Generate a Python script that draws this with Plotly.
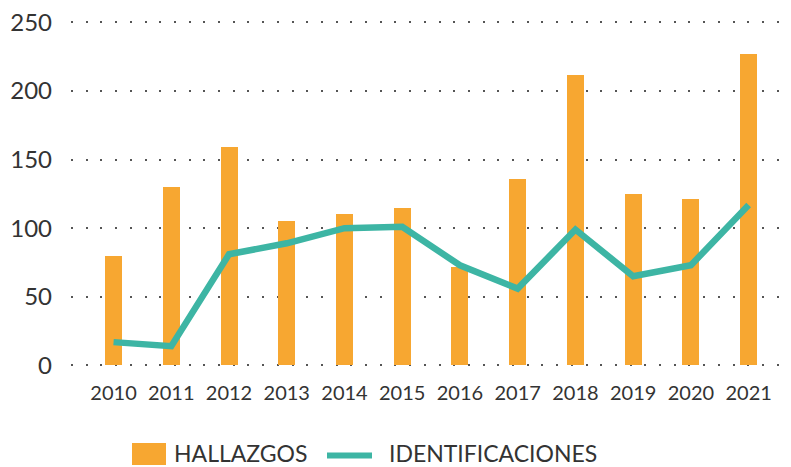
import plotly.graph_objects as go

years = ["2010", "2011", "2012", "2013", "2014", "2015",
         "2016", "2017", "2018", "2019", "2020", "2021"]
hallazgos = [80, 130, 159, 105, 110, 115, 72, 136, 212, 125, 121, 227]
identificaciones = [17, 14, 81, 89, 100, 101, 73, 56, 99, 65, 73, 117]

ORANGE = "#F7A731"
TEAL = "#3DB5A4"
TEXT = "#333333"
FONT = "Lato"

# plot area geometry (pixels) used to place the hand-drawn legend
PLOT_LEFT, PLOT_W = 71, 714
PLOT_BOTTOM, PLOT_H = 373, 363


def px(x):
    return (x - PLOT_LEFT) / PLOT_W


def py(y):
    return (PLOT_BOTTOM - y) / PLOT_H


fig = go.Figure()
fig.add_trace(go.Bar(x=years, y=hallazgos, name="HALLAZGOS",
                     marker=dict(color=ORANGE, line=dict(width=0)),
                     width=0.295, showlegend=False))
fig.add_trace(go.Scatter(x=years, y=identificaciones, name="IDENTIFICACIONES",
                         mode="lines", line=dict(color=TEAL, width=6.5),
                         showlegend=False))

shapes = [
    dict(type="rect", xref="paper", yref="paper",
         x0=px(132), x1=px(166), y0=py(465), y1=py(443),
         fillcolor=ORANGE, line=dict(width=0)),
    dict(type="line", xref="paper", yref="paper",
         x0=px(327), x1=px(372), y0=py(455.5), y1=py(455.5),
         line=dict(color=TEAL, width=6)),
]
annotations = [
    dict(text="HALLAZGOS", xref="paper", yref="paper",
         x=px(172), y=py(453), xanchor="left", yanchor="middle",
         showarrow=False, font=dict(family=FONT, size=23, color=TEXT)),
    dict(text="IDENTIFICACIONES", xref="paper", yref="paper",
         x=px(387), y=py(453), xanchor="left", yanchor="middle",
         showarrow=False, font=dict(family=FONT, size=23, color=TEXT)),
]

fig.update_layout(
    width=791, height=467,
    margin=dict(l=PLOT_LEFT, r=791 - PLOT_LEFT - PLOT_W, t=10, b=467 - PLOT_BOTTOM),
    paper_bgcolor="white", plot_bgcolor="white",
    font=dict(family=FONT, color=TEXT),
    shapes=shapes, annotations=annotations,
    bargap=0,
)
fig.update_xaxes(range=[-0.737, 11.63], showgrid=False, showline=False,
                 zeroline=False, ticks="", tickfont=dict(size=20, color=TEXT),
                 ticklabelstandoff=6)
fig.update_yaxes(range=[-5.5, 259], tickvals=[0, 50, 100, 150, 200, 250],
                 showgrid=True, gridcolor="#555555", gridwidth=2,
                 griddash="2px,12.7px", zeroline=False, showline=False,
                 ticks="", tickfont=dict(size=24, color=TEXT),
                 ticklabelstandoff=18)

fig.write_html("out.html")
